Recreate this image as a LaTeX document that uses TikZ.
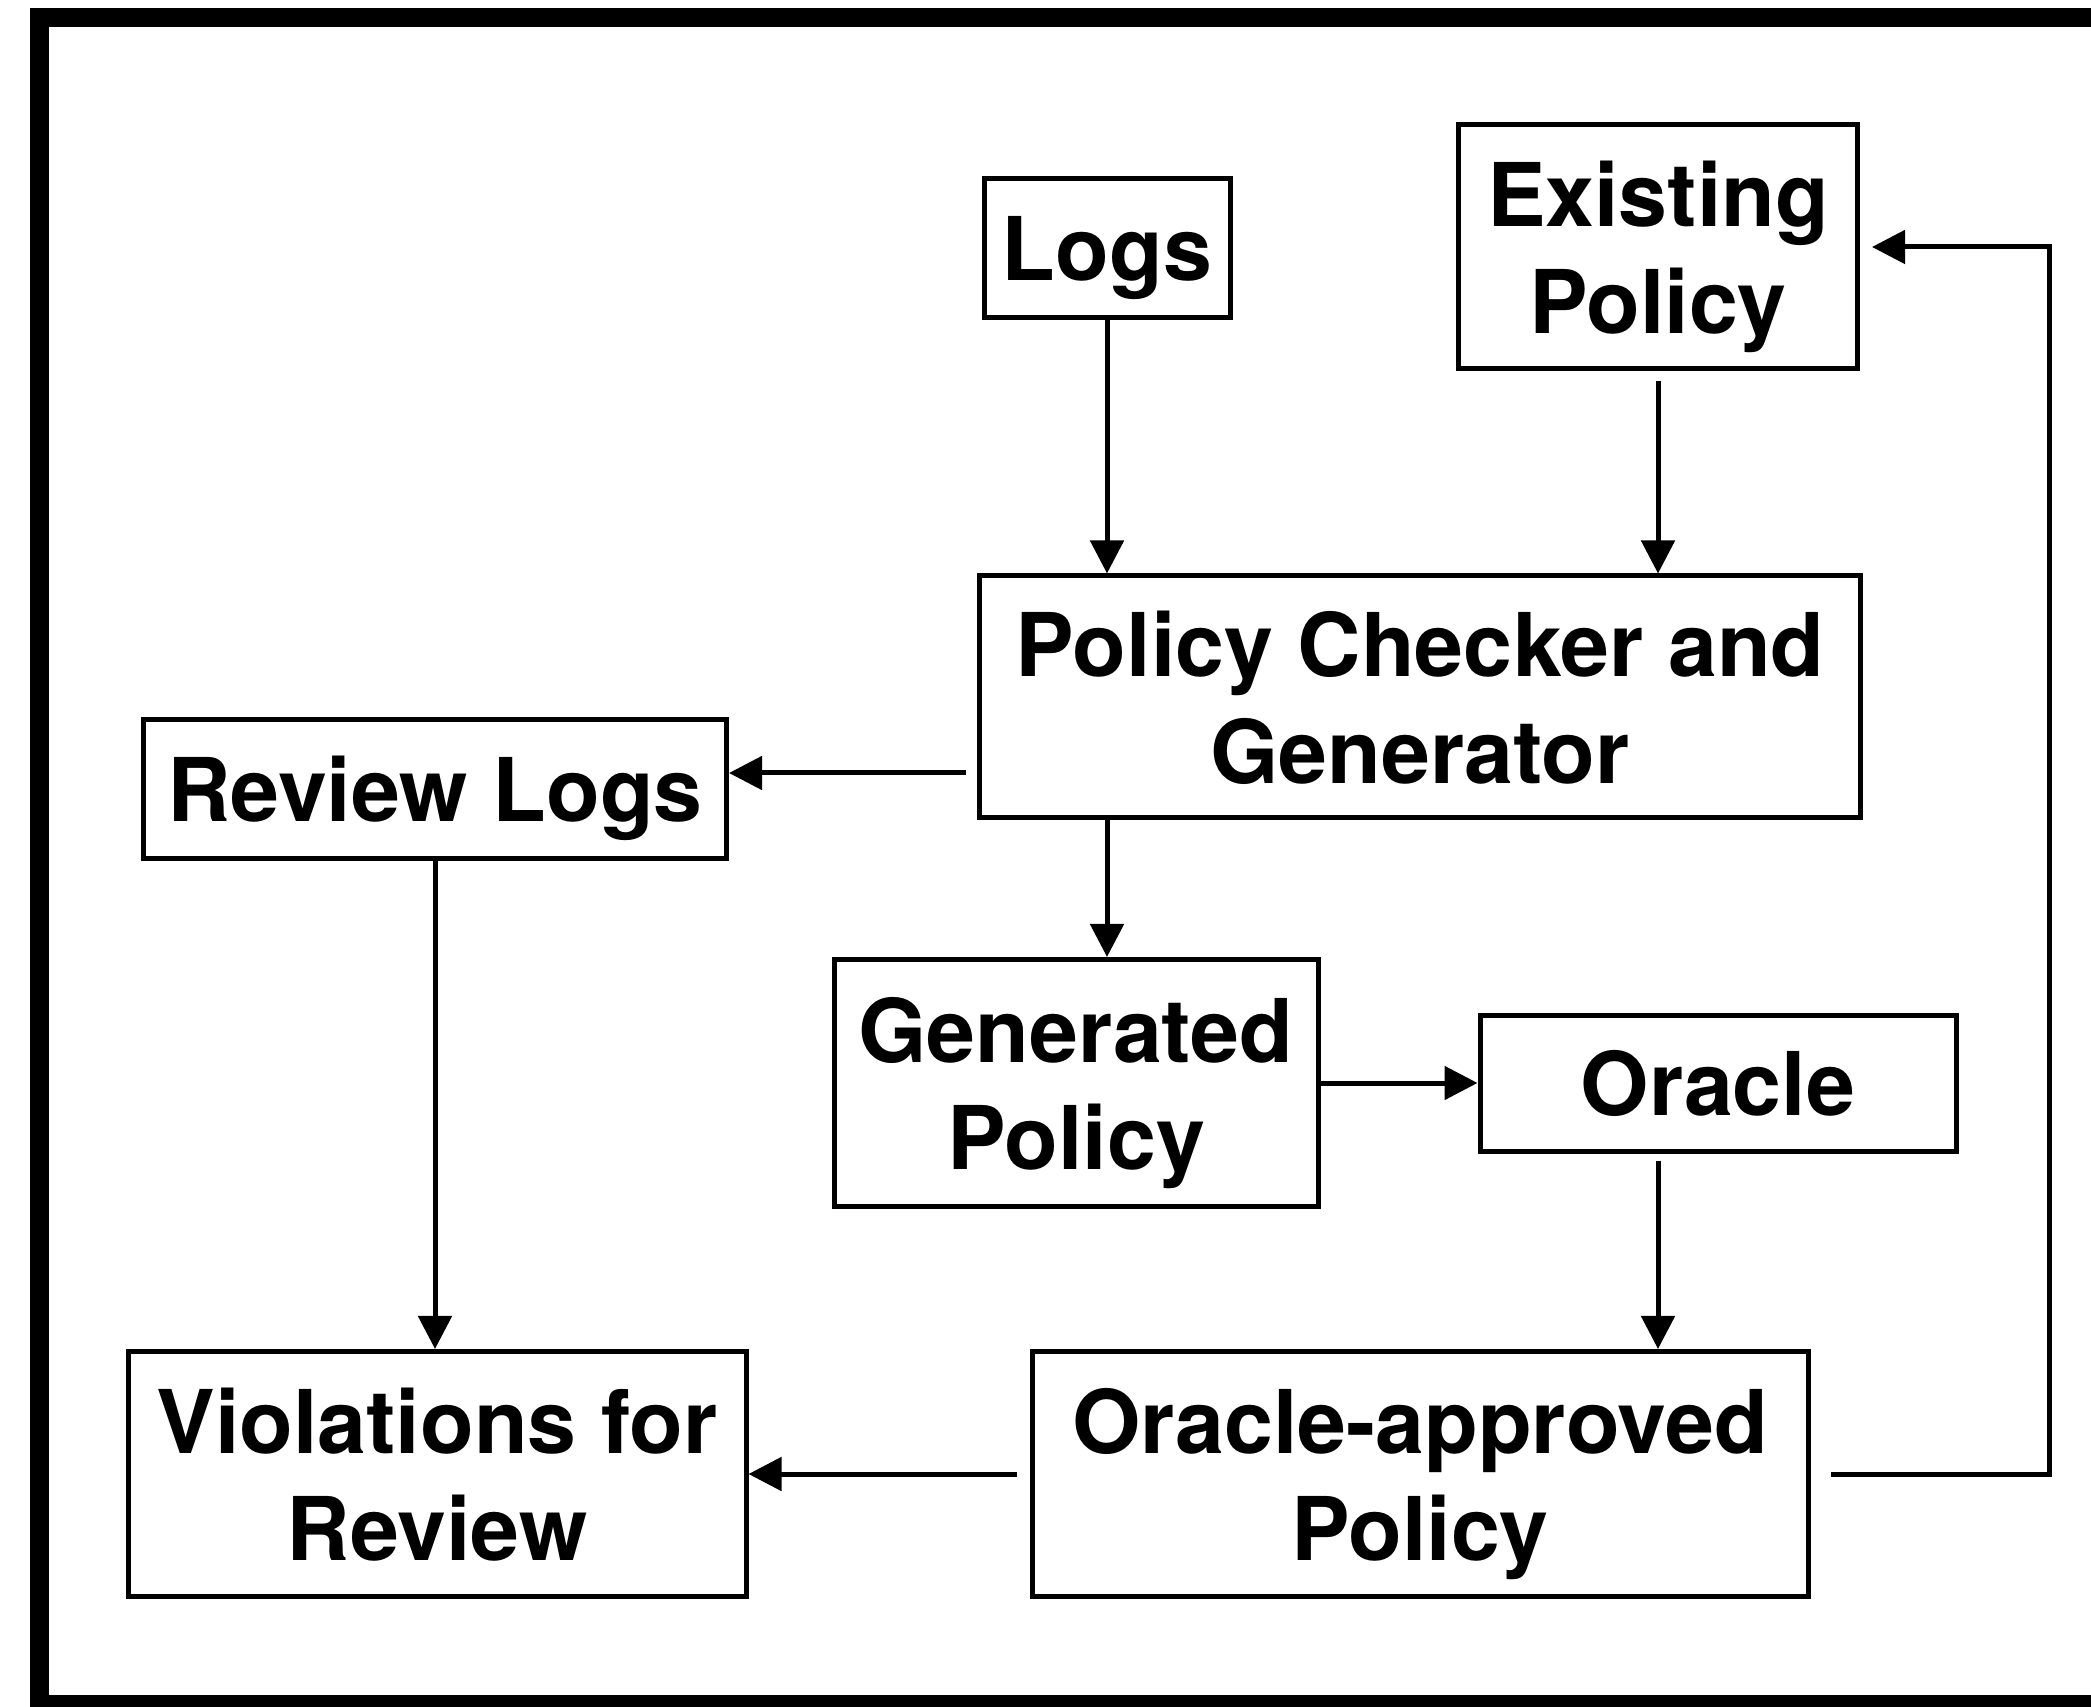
\documentclass[tikz,border=0pt]{standalone}
\usepackage{fontspec}
\setmainfont{TeX Gyre Heros}
\usetikzlibrary{arrows.meta}

\newlength{\du}
\setlength{\du}{0.01cm}

\tikzset{
  blk/.style={draw, line width=5\du, align=center, inner sep=0pt, text depth=0pt,
    font=\fontsize{25}{30.4}\selectfont\bfseries},
  arr/.style={line width=5\du, -{Triangle[length=0.33cm,width=0.33cm]}},
}

\begin{document}
\begin{tikzpicture}
\pgftransformyscale{-1.000000}
\useasboundingbox (0\du,0\du) rectangle (2091\du,1707\du);
\clip (0\du,0\du) rectangle (2091\du,1707\du);
% frame
\draw[line width=19\du] (39.5\du,17.5\du) rectangle (2130\du,1704.5\du);
% boxes
\node[blk, minimum width=246\du, minimum height=139\du] (logs) at (1107\du,248\du) {Logs};
\node[blk, minimum width=399\du, minimum height=244\du] (exist) at (1658\du,247\du) {Existing\\Policy};
\node[blk, minimum width=881\du, minimum height=242\du] (pcg) at (1420\du,697\du) {Policy Checker and\\Generator};
\node[blk, minimum width=583\du, minimum height=139\du] (review) at (435\du,789\du) {Review Logs};
\node[blk, minimum width=484\du, minimum height=247\du] (gen) at (1076\du,1083\du) {Generated\\Policy};
\node[blk, minimum width=476\du, minimum height=136\du] (oracle) at (1718\du,1083\du) {Oracle};
\node[blk, minimum width=618\du, minimum height=245\du] (viol) at (437\du,1474\du) {Violations for\\Review};
\node[blk, minimum width=776\du, minimum height=245\du] (oa) at (1420\du,1474\du) {Oracle-approved\\Policy};
% free ends
\coordinate (rvl) at (966\du,773\du);
\coordinate (back) at (2049\du,1474\du);
% arrows
\draw[arr] (logs.south) -- (logs.south |- pcg.north);
\draw[arr, shorten <=10\du] (exist.south) -- (exist.south |- pcg.north);
\draw[arr] (rvl) -- (rvl -| review.east);
\draw[arr] (pcg.south -| logs) -- (gen.north -| logs);
\draw[arr] (review.south) -- (review.south |- viol.north);
\draw[arr] (gen.east) -- (oracle.west);
\draw[arr, shorten <=7\du] (oracle.south -| exist) -- (oa.north -| exist);
\draw[arr, shorten <=13\du] (oa.west) -- (viol.east);
\draw[arr, shorten <=20\du, shorten >=12\du] (oa.east) -- (back) |- (exist.east);
\end{tikzpicture}
\end{document}
